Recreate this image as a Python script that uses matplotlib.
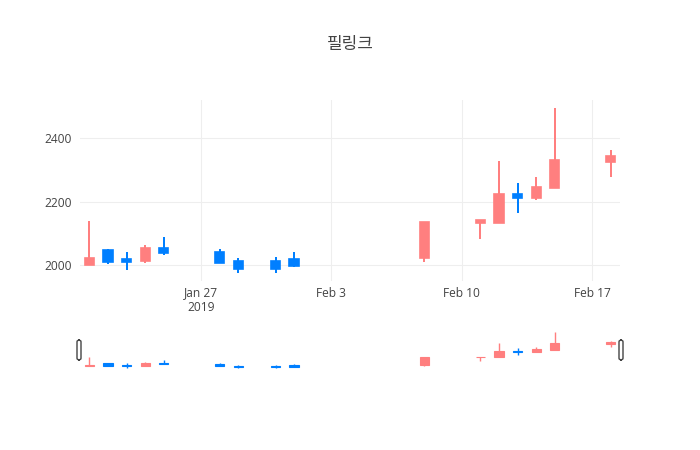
import matplotlib
matplotlib.use("Agg")
import matplotlib.pyplot as plt
import matplotlib.dates as mdates
from matplotlib.patches import FancyBboxPatch
import pandas as pd

title = "필링크"
dates = ["2019-01-21", "2019-01-22", "2019-01-23", "2019-01-24", "2019-01-25",
         "2019-01-28", "2019-01-29", "2019-01-31", "2019-02-01",
         "2019-02-08", "2019-02-11", "2019-02-12", "2019-02-13", "2019-02-14",
         "2019-02-15", "2019-02-18"]
opens  = [2002, 2048, 2018, 2012, 2053, 2042, 2012, 2012, 2020,
          2022, 2134, 2132, 2226, 2212, 2242, 2325]
highs  = [2138, 2050, 2043, 2064, 2088, 2052, 2023, 2025, 2040,
          2137, 2142, 2330, 2258, 2279, 2495, 2362]
lows   = [2002, 2005, 1985, 2008, 2032, 2006, 1976, 1976, 1995,
          2010, 2081, 2132, 2166, 2205, 2242, 2279]
closes = [2022, 2009, 2010, 2053, 2038, 2007, 1987, 1988, 1998,
          2136, 2142, 2226, 2212, 2245, 2331, 2343]
yticks = [2000, 2200, 2400]
xtick_dates = ["2019-01-27", "2019-02-03", "2019-02-10", "2019-02-17"]
xtick_labels = ["Jan 27\n2019", "Feb 3", "Feb 10", "Feb 17"]

UP = "#FF7F7F"
DOWN = "#007FFF"
TXT = "#444444"
GRID = "#EEEEEE"

plt.rcParams['font.family'] = ['Open Sans', 'DejaVu Sans']

W, H = 700, 450
fig = plt.figure(figsize=(7, 4.5), dpi=100)

x = mdates.date2num(pd.to_datetime(dates))
xmin = mdates.date2num(pd.Timestamp("2019-01-20 12:00"))
xmax = mdates.date2num(pd.Timestamp("2019-02-18 12:00"))
ylo, yhi = 1950, 2521

def draw(ax, lw_wick, lw_edge, bw):
    for xi, o, h, l, c in zip(x, opens, highs, lows, closes):
        col = UP if c >= o else DOWN
        ax.plot([xi, xi], [l, h], color=col, lw=lw_wick, solid_capstyle='butt', zorder=2)
        b = min(o, c)
        ax.bar(xi, abs(c - o), bottom=b, width=bw, color=col, edgecolor=col,
               linewidth=lw_edge, zorder=3)

# main axes
ax = fig.add_axes([80 / W, 1 - 281 / H, 540 / W, 181 / H])
draw(ax, 1.44, 1.2, 0.5)
ax.set_xlim(xmin, xmax)
ax.set_ylim(ylo, yhi)
for s in ax.spines.values():
    s.set_visible(False)
ax.set_yticks(yticks)
ax.set_yticklabels([str(v) for v in yticks])
ax.set_xticks(mdates.date2num(pd.to_datetime(xtick_dates)))
ax.set_xticklabels(xtick_labels, linespacing=1.1)
ax.tick_params(length=0, labelsize=8.64, colors=TXT, pad=6)
ax.tick_params(axis='x', pad=4)
ax.grid(True, color=GRID, linewidth=0.8, zorder=0)
ax.set_axisbelow(True)

fig.text(0.5, 1 - 44 / H, title, ha='center', va='center', fontsize=12.24,
         color=TXT, family=['Noto Sans CJK KR', 'DejaVu Sans'])

# range slider
rs = fig.add_axes([80 / W, 1 - 370 / H, 540 / W, 40 / H])
draw(rs, 1.0, 0.8, 0.5)
rs.set_xlim(xmin, xmax)
rs.set_ylim(ylo, yhi)
rs.set_xticks([])
rs.set_yticks([])
for s in rs.spines.values():
    s.set_visible(False)

for hx in (79, 621):
    p = FancyBboxPatch(((hx - 2) / W, 1 - 360 / H), 4 / W, 20 / H,
                       boxstyle="round,pad=0,rounding_size=0.004",
                       transform=fig.transFigure, facecolor='white',
                       edgecolor='#444444', linewidth=1.0, zorder=10)
    fig.patches.append(p)

fig.savefig("out.png", dpi=100, facecolor='white')
